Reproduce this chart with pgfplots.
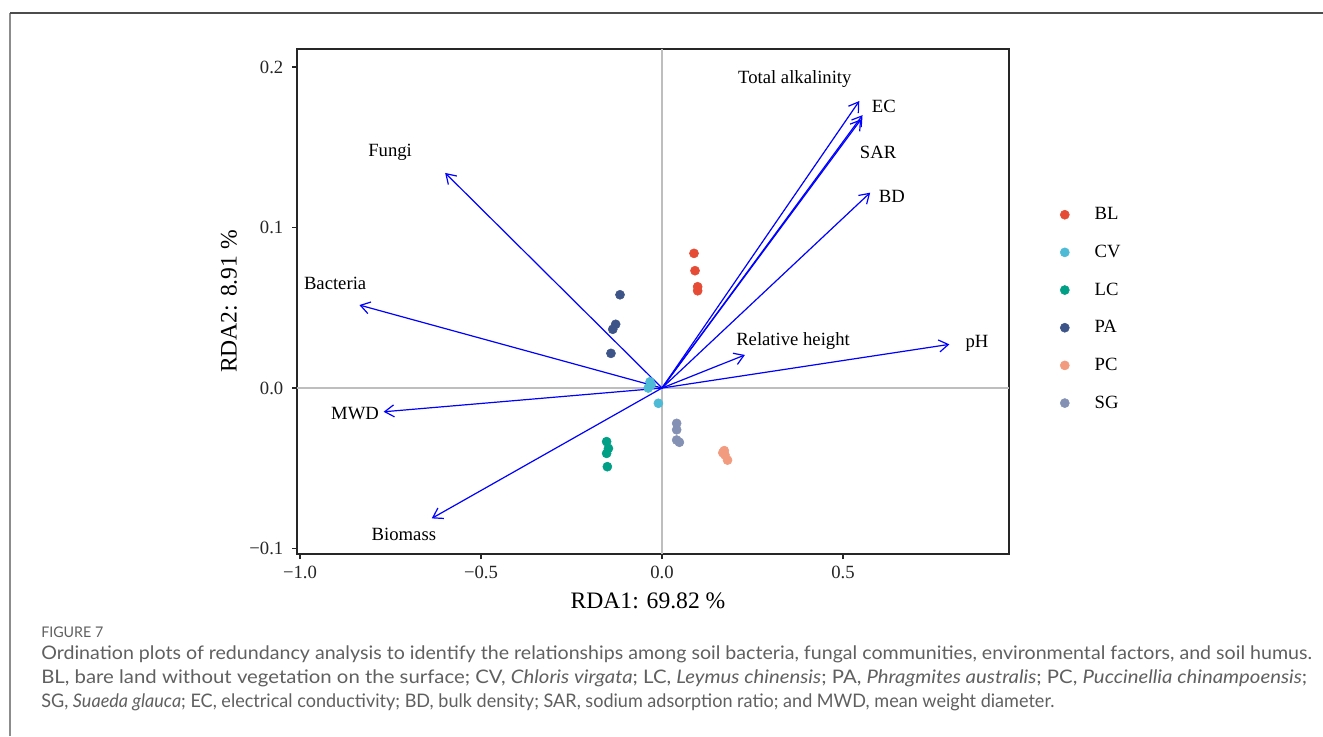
\documentclass[border=0pt]{standalone}
\usepackage{pgfplots}
\pgfplotsset{compat=1.18}
\usepackage{fontspec}
\usepackage{graphicx}
\setmainfont{Liberation Serif}
\newfontfamily\capfont{Lato}
\usetikzlibrary{arrows.meta}
\definecolor{cBL}{HTML}{E64B35}
\definecolor{cCV}{HTML}{4DBBD5}
\definecolor{cLC}{HTML}{00A087}
\definecolor{cPA}{HTML}{3C5488}
\definecolor{cPC}{HTML}{F39B7F}
\definecolor{cSG}{HTML}{8491B4}
\definecolor{refgray}{HTML}{BEBEBE}
\definecolor{captxt}{HTML}{606060}
\begin{document}
\begin{tikzpicture}
\useasboundingbox (0,0) rectangle (992.25pt,-552pt);
\fill[white] (0,0) rectangle (992.25pt,-552pt);
\draw[color=black!45, line width=1.1pt] (7.5pt,-552pt) -- (7.5pt,-9.75pt);
\draw[color=black!70, line width=1.1pt] (7.5pt,-9.75pt) -- (992.25pt,-9.75pt);
\begin{axis}[
  at={(222.75pt,-415.5pt)}, anchor=south west,
  scale only axis, width=534pt, height=378.75pt,
  xmin=-1.0083, xmax=0.9586, ymin=-0.1034, ymax=0.2112,
  axis line style={black!85, line width=0.8pt},
  tick align=outside, tick pos=left,
  major tick length=3.75pt,
  every tick/.style={black!85, line width=0.8pt},
  xtick={-1,-0.5,0,0.5}, xticklabels={−1.0,−0.5,0.0,0.5},
  ytick={-0.1,0,0.1,0.2}, yticklabels={−0.1,0.0,0.1,0.2},
  /pgf/number format/assume math mode=true,
  tick label style={font=\fontsize{14}{14}\selectfont, text=black!85},
  xticklabel style={yshift=-2pt},
  yticklabel style={xshift=-3pt},
  xlabel={RDA1: 69.82 \%}, ylabel={RDA2: 8.91 \%},
  every axis x label/.style={at={(axis description cs:0.493,-0.093)}, anchor=center, font=\fontsize{17.7}{18}\selectfont},
  every axis y label/.style={at={(axis description cs:-0.0955,0.5)}, rotate=90, anchor=center, font=\fontsize{17.7}{18}\selectfont},
  clip=false,
  legend style={draw=none, fill=none, at={(1.066,0.697)}, anchor=north west,
    font=\fontsize{14}{14}\selectfont, row sep=13.5pt},
  legend cell align=left,
]
\addplot[refgray, line width=1.1pt, forget plot] coordinates {(-1.0083,0) (0.9586,0)};
\addplot[refgray, line width=1.1pt, forget plot] coordinates {(0,-0.1034) (0,0.2112)};
\addplot[only marks, mark=*, mark size=3.4pt, color=cBL] coordinates {(0.0884,0.0839) (0.0912,0.0731) (0.0985,0.0631) (0.0985,0.0606)};
\addplot[only marks, mark=*, mark size=3.4pt, color=cCV] coordinates {(-0.033,0.0039) (-0.038,0.0) (-0.030,0.002) (-0.010,-0.0095)};
\addplot[only marks, mark=*, mark size=3.4pt, color=cLC] coordinates {(-0.153,-0.0334) (-0.148,-0.0376) (-0.153,-0.0407) (-0.151,-0.049)};
\addplot[only marks, mark=*, mark size=3.4pt, color=cPA] coordinates {(-0.116,0.0581) (-0.128,0.0397) (-0.136,0.0366) (-0.141,0.0216)};
\addplot[only marks, mark=*, mark size=3.4pt, color=cPC] coordinates {(0.168,-0.0403) (0.174,-0.0417) (0.181,-0.0449) (0.172,-0.039)};
\addplot[only marks, mark=*, mark size=3.4pt, color=cSG] coordinates {(0.0405,-0.022) (0.0405,-0.026) (0.0405,-0.0324) (0.048,-0.0338)};
\legend{\hspace{17pt}BL,\hspace{17pt}CV,\hspace{17pt}LC,\hspace{17pt}PA,\hspace{17pt}PC,\hspace{17pt}SG}
\addplot[blue, line width=0.9pt, -{Straight Barb[length=7pt,width=9pt]}, forget plot] coordinates {(0,0) (-0.599,0.134)};
\addplot[blue, line width=0.9pt, -{Straight Barb[length=7pt,width=9pt]}, forget plot] coordinates {(0,0) (-0.836,0.0517)};
\addplot[blue, line width=0.9pt, -{Straight Barb[length=7pt,width=9pt]}, forget plot] coordinates {(0,0) (0.554,0.170)};
\addplot[blue, line width=0.9pt, -{Straight Barb[length=7pt,width=9pt]}, forget plot] coordinates {(0,0) (0.545,0.1788)};
\addplot[blue, line width=0.9pt, -{Straight Barb[length=7pt,width=9pt]}, forget plot] coordinates {(0,0) (0.550,0.1674)};
\addplot[blue, line width=0.9pt, -{Straight Barb[length=7pt,width=9pt]}, forget plot] coordinates {(0,0) (0.575,0.1217)};
\addplot[blue, line width=0.9pt, -{Straight Barb[length=7pt,width=9pt]}, forget plot] coordinates {(0,0) (0.229,0.0206)};
\addplot[blue, line width=0.9pt, -{Straight Barb[length=7pt,width=9pt]}, forget plot] coordinates {(0,0) (0.794,0.0272)};
\addplot[blue, line width=0.9pt, -{Straight Barb[length=7pt,width=9pt]}, forget plot] coordinates {(0,0) (-0.769,-0.0148)};
\addplot[blue, line width=0.9pt, -{Straight Barb[length=7pt,width=9pt]}, forget plot] coordinates {(0,0) (-0.636,-0.0812)};
\begin{scope}[every node/.style={font=\fontsize{14}{14}\selectfont, anchor=center, inner sep=0pt}]
\node at (axis cs:-0.751,0.147) {Fungi};
\node at (axis cs:-0.903,0.0654) {Bacteria};
\node at (axis cs:0.367,0.1925) {Total alkalinity};
\node at (axis cs:0.613,0.1757) {EC};
\node at (axis cs:0.597,0.147) {SAR};
\node at (axis cs:0.635,0.1196) {BD};
\node at (axis cs:0.362,0.0293) {Relative height};
\node at (axis cs:0.870,0.028) {pH};
\node at (axis cs:-0.848,-0.0156) {MWD};
\node at (axis cs:-0.713,-0.091) {Biomass};
\end{scope}
\end{axis}
\begin{scope}[every node/.style={anchor=base west, inner sep=0pt, text=captxt}]
\node at (30.75pt,-477.75pt) {\resizebox{46.5pt}{\height}{\capfont\fontsize{11}{12}\selectfont FIGURE 7}};
\node at (30.75pt,-494.6pt) {\resizebox{953pt}{\height}{\capfont\fontsize{14}{15}\selectfont Ordination plots of redundancy analysis to identify the relationships among soil bacteria, fungal communities, environmental factors, and soil humus.}};
\node at (30.75pt,-512.6pt) {\resizebox{949.5pt}{\height}{\capfont\fontsize{14}{15}\selectfont BL, bare land without vegetation on the surface; CV, \textit{Chloris virgata}; LC, \textit{Leymus chinensis}; PA, \textit{Phragmites australis}; PC, \textit{Puccinellia chinampoensis};}};
\node at (30.75pt,-530.6pt) {\resizebox{759.75pt}{\height}{\capfont\fontsize{14}{15}\selectfont SG, \textit{Suaeda glauca}; EC, electrical conductivity; BD, bulk density; SAR, sodium adsorption ratio; and MWD, mean weight diameter.}};
\end{scope}
\end{tikzpicture}
\end{document}
